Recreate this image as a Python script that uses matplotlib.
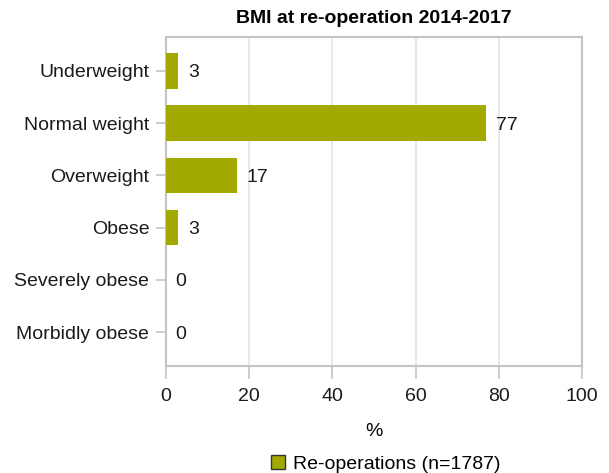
import matplotlib.pyplot as plt

categories = ['Underweight', 'Normal weight', 'Overweight', 'Obese',
              'Severely obese', 'Morbidly obese']
values = [3, 77, 17, 3, 0, 0]
series_name = 'Re-operations (n=1787)'
title = 'BMI at re-operation 2014-2017'

bar_color = '#a2aa00'
frame_color = '#c4c4c4'
fs = 14

plt.rcParams['font.family'] = ['Liberation Sans', 'DejaVu Sans']

fig = plt.figure(figsize=(6.09, 4.73), dpi=100)
ax = fig.add_axes([0.2726, 0.2262, 0.683, 0.6956])

ypos = list(range(len(categories)))
bars = ax.barh(ypos, values, height=0.68, color=bar_color,
               linewidth=0, label=series_name, zorder=3)
for y, v in zip(ypos, values):
    ax.annotate(str(v), (v, y), xytext=(7, 0), textcoords='offset points',
                va='center_baseline', ha='left', fontsize=fs, color='#1a1a1a')

ax.set_xlim(0, 100)
ax.set_ylim(len(categories) - 0.35, -0.65)
ax.set_yticks(ypos)
ax.set_yticklabels(categories, fontsize=fs, color='#1a1a1a')
ax.set_xticks([0, 20, 40, 60, 80, 100])
ax.tick_params(axis='x', labelsize=fs, colors=frame_color, labelcolor='#1a1a1a',
               length=9, width=1.2, pad=7)
ax.tick_params(axis='y', colors=frame_color, labelcolor='#1a1a1a',
               length=7, width=1.2, pad=5)
ax.grid(axis='x', color='#e4e4e4', linewidth=1.2, zorder=0)
for s in ax.spines.values():
    s.set_color(frame_color)
    s.set_linewidth(1.5)

ax.set_xlabel('%', fontsize=fs, labelpad=13)
ax.set_title(title, fontsize=fs, fontweight='bold', pad=10)

leg = fig.legend(handles=[bars], labels=[series_name], loc='lower center',
                 bbox_to_anchor=(0.633, -0.037), frameon=False, fontsize=fs,
                 handlelength=0.75, handleheight=0.75, handletextpad=0.4)
leg.legend_handles[0].set_edgecolor('#333333')
leg.legend_handles[0].set_linewidth(1)

fig.savefig('out.png', dpi=100)
